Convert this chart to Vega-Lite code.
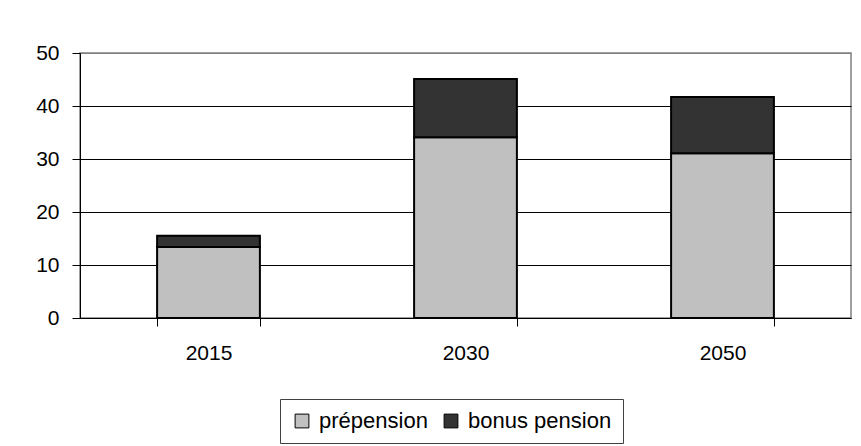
{
  "$schema": "https://vega.github.io/schema/vega-lite/v6.json",
  "width": 771,
  "height": 265,
  "autosize": {"type": "none"},
  "padding": {"left": 80, "top": 53, "right": 10, "bottom": 128},
  "background": "white",
  "config": {
    "font": "Liberation Sans",
    "view": {"stroke": "#808080", "strokeWidth": 1.5},
    "axis": {"labelFont": "Liberation Sans", "labelFontSize": 21, "labelColor": "black"}
  },
  "data": {
    "values": [
      {"year": "2015", "series": "prépension", "value": 13.4},
      {"year": "2015", "series": "bonus pension", "value": 2.1},
      {"year": "2030", "series": "prépension", "value": 34.1},
      {"year": "2030", "series": "bonus pension", "value": 11.0},
      {"year": "2050", "series": "prépension", "value": 31.1},
      {"year": "2050", "series": "bonus pension", "value": 10.6}
    ]
  },
  "mark": {"type": "bar", "stroke": "black", "strokeWidth": 2},
  "encoding": {
    "x": {
      "field": "year",
      "type": "nominal",
      "scale": {"paddingInner": 0.6, "paddingOuter": 0.3},
      "axis": {
        "title": null,
        "labelAngle": 0,
        "tickBand": "extent",
        "tickSize": 8,
        "tickColor": "black",
        "domainColor": "black",
        "labelPadding": 16
      }
    },
    "y": {
      "field": "value",
      "type": "quantitative",
      "stack": "zero",
      "scale": {"domain": [0, 50], "nice": false},
      "axis": {
        "title": null,
        "values": [0, 10, 20, 30, 40, 50],
        "grid": true,
        "gridColor": {"condition": {"test": "datum.value === 50", "value": "#808080"}, "value": "black"},
        "gridWidth": 1,
        "tickSize": 8,
        "tickColor": "black",
        "domainColor": "black",
        "labelPadding": 13
      }
    },
    "color": {
      "field": "series",
      "type": "nominal",
      "scale": {"domain": ["prépension", "bonus pension"], "range": ["#C0C0C0", "#333333"]},
      "legend": {
        "title": null,
        "orient": "none",
        "legendX": 200,
        "legendY": 346,
        "direction": "horizontal",
        "symbolType": "square",
        "symbolSize": 190,
        "symbolStrokeColor": "black",
        "symbolStrokeWidth": 1,
        "labelFontSize": 22,
        "labelFont": "Liberation Sans",
        "labelColor": "black",
        "labelOffset": 6,
        "columnPadding": 12,
        "padding": 11,
        "strokeColor": "#404040",
        "fillColor": "white"
      }
    },
    "order": {"field": "series", "sort": "descending"}
  }
}
